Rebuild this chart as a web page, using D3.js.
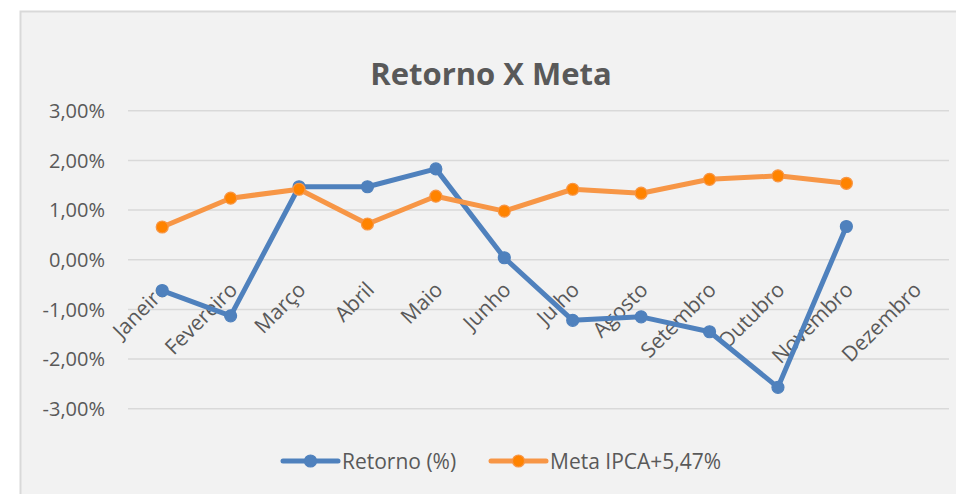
<!DOCTYPE html>
<meta charset="utf-8">
<style>
body { margin: 0; background: #fff; }
text { font-family: "Open Sans", sans-serif; fill: #595959; }
.grid line { stroke: #d9d9d9; stroke-width: 1.5px; }
</style>
<svg width="956" height="494"></svg>
<script src="https://cdn.jsdelivr.net/npm/d3@7"></script>
<script>

// data
var months = ["Janeiro", "Fevereiro", "Março", "Abril", "Maio", "Junho",
  "Julho", "Agosto", "Setembro", "Outubro", "Novembro", "Dezembro"];
var retorno = [-0.62, -1.13, 1.47, 1.47, 1.83, 0.04, -1.22, -1.15, -1.45, -2.57, 0.67];
var meta = [0.66, 1.24, 1.42, 0.72, 1.28, 0.98, 1.42, 1.34, 1.62, 1.69, 1.54];
var yTicks = [-3, -2, -1, 0, 1, 2, 3];
var seriesNames = ["Retorno (%)", "Meta IPCA+5,47%"];

var blue = "#4f81bd",
    orangeLine = "#f79646",
    orangeDot = "#ff8300";

var svg = d3.select("svg");

// chart frame
svg.append("rect")
    .attr("x", 20.5).attr("y", 11.5)
    .attr("width", 960).attr("height", 500)
    .attr("fill", "#f2f2f2")
    .attr("stroke", "#d9d9d9")
    .attr("stroke-width", 2);

svg.append("text")
    .attr("x", 491).attr("y", 85)
    .attr("text-anchor", "middle")
    .style("font-size", "31px")
    .style("font-weight", "700")
    .text("Retorno X Meta");

var x = d3.scaleBand()
    .domain(months)
    .range([128, 949]);

var y = d3.scaleLinear()
    .domain([-3, 3])
    .range([408.7, 110.8]);

var br = d3.formatLocale({decimal: ",", thousands: ".", grouping: [3], currency: ["R$", ""], minus: "-"});
var fmt = function(d) { return br.format(".2f")(d) + "%"; };

// gridlines + y labels
var grid = svg.append("g").attr("class", "grid");
grid.selectAll("line")
    .data(yTicks)
  .enter().append("line")
    .attr("x1", x.range()[0]).attr("x2", x.range()[1])
    .attr("y1", function(d) { return y(d); })
    .attr("y2", function(d) { return y(d); });

svg.append("g").selectAll("text")
    .data(yTicks)
  .enter().append("text")
    .attr("x", 105)
    .attr("y", function(d) { return y(d); })
    .attr("dy", "0.36em")
    .attr("text-anchor", "end")
    .style("font-size", "20px")
    .text(fmt);

// month labels, rotated, hanging under the zero line
svg.append("g").selectAll("text")
    .data(months)
  .enter().append("text")
    .attr("text-anchor", "end")
    .attr("transform", function(d) {
      return "translate(" + (x(d) + x.bandwidth() / 2 + 8) + "," + 291 + ") rotate(-45)";
    })
    .style("font-size", "21px")
    .text(function(d) { return d; });

var line = d3.line()
    .x(function(d, i) { return x(months[i]) + x.bandwidth() / 2; })
    .y(function(d) { return y(d); });

function drawSeries(vals, lineCol, dotFill, dotStroke) {
  var g = svg.append("g");
  g.append("path")
      .datum(vals)
      .attr("d", line)
      .attr("fill", "none")
      .attr("stroke", lineCol)
      .attr("stroke-width", 5)
      .attr("stroke-linejoin", "round");
  g.selectAll("circle")
      .data(vals)
    .enter().append("circle")
      .attr("cx", function(d, i) { return x(months[i]) + x.bandwidth() / 2; })
      .attr("cy", function(d) { return y(d); })
      .attr("r", 6)
      .attr("fill", dotFill)
      .attr("stroke", dotStroke)
      .attr("stroke-width", 1.2);
}

drawSeries(retorno, blue, blue, blue);
drawSeries(meta, orangeLine, orangeDot, orangeLine);

// legend
var legendItems = [
  {name: seriesNames[0], x: 283, line: blue, fill: blue, stroke: blue},
  {name: seriesNames[1], x: 491, line: orangeLine, fill: orangeDot, stroke: orangeLine}
];
var lg = svg.append("g").selectAll("g")
    .data(legendItems)
  .enter().append("g")
    .attr("transform", function(d) { return "translate(" + d.x + ",461)"; });
lg.append("line")
    .attr("x1", 0).attr("x2", 55)
    .attr("stroke", function(d) { return d.line; })
    .attr("stroke-width", 5)
    .attr("stroke-linecap", "round");
lg.append("circle")
    .attr("cx", 27.5).attr("r", 6)
    .attr("fill", function(d) { return d.fill; })
    .attr("stroke", function(d) { return d.stroke; })
    .attr("stroke-width", 1.2);
lg.append("text")
    .attr("x", 59)
    .attr("dy", "0.36em")
    .style("font-size", "21px")
    .text(function(d) { return d.name; });

</script>
